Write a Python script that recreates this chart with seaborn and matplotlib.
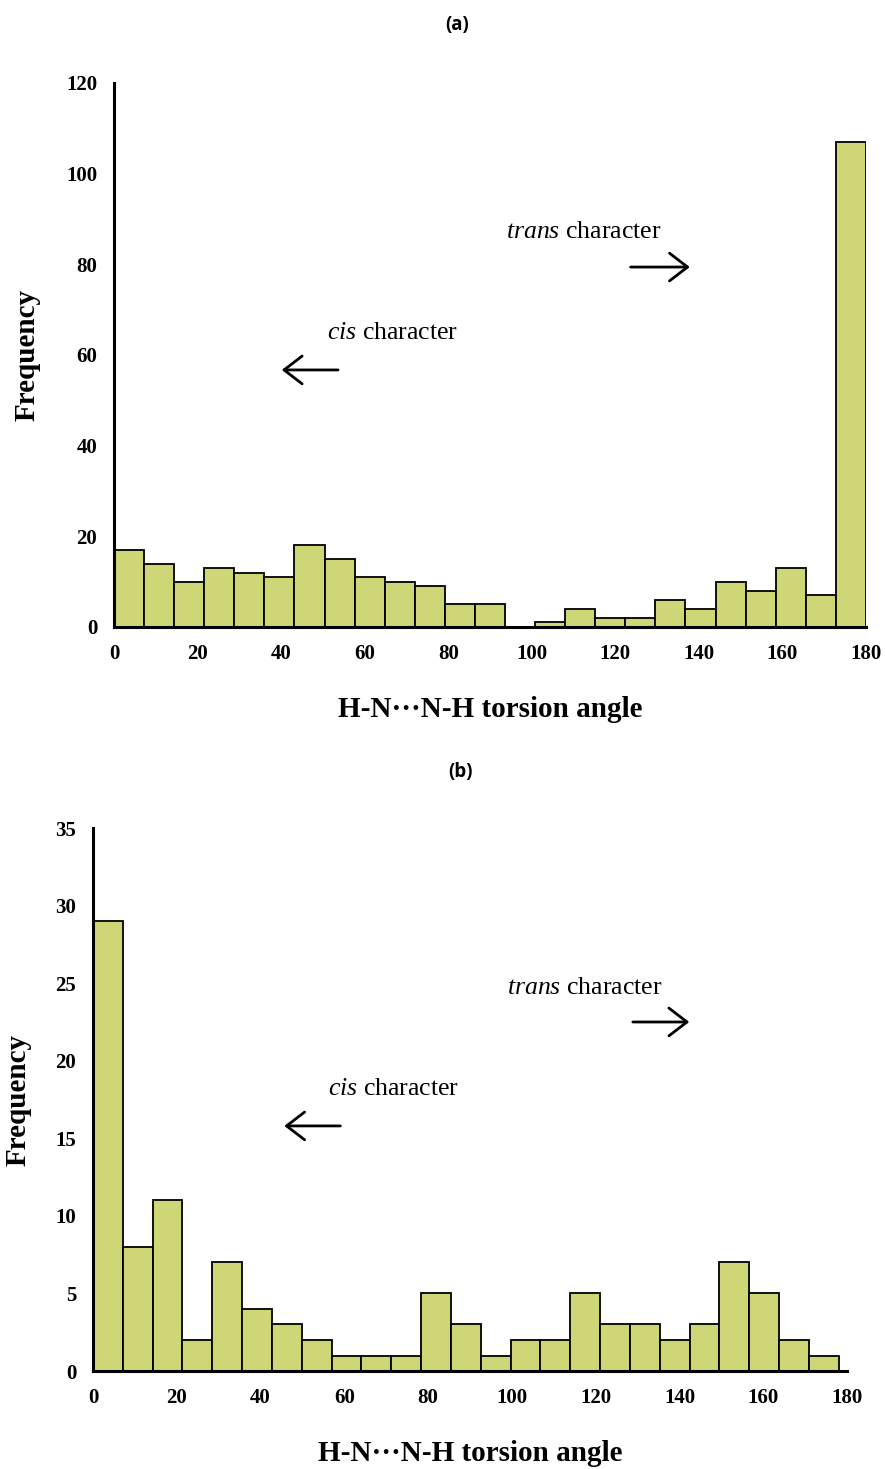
import numpy as np
import pandas as pd
import seaborn as sns
import matplotlib
matplotlib.use("Agg")
import matplotlib.pyplot as plt

# bin counts (25 bins each)
counts_a = [17, 14, 10, 13, 12, 11, 18, 15, 11, 10, 9, 5, 5,
            0, 1, 4, 2, 2, 6, 4, 10, 8, 13, 7, 107]
counts_b = [29, 8, 11, 2, 7, 4, 3, 2, 1, 1, 1, 5, 3,
            1, 2, 2, 5, 3, 3, 2, 3, 7, 5, 2, 1]
range_a = (0, 180)
range_b = (0, 178)
xticks = [0, 20, 40, 60, 80, 100, 120, 140, 160, 180]
yticks_a = [0, 20, 40, 60, 80, 100, 120]
yticks_b = [0, 5, 10, 15, 20, 25, 30, 35]

bar_color = "#CFD676"
serif = "Liberation Serif"

sns.set_theme(style="white")
plt.rcParams["font.family"] = [serif, "DejaVu Sans"]
plt.rcParams["mathtext.fontset"] = "custom"
plt.rcParams["mathtext.rm"] = serif
plt.rcParams["mathtext.it"] = serif + ":italic"
for key in ["text.color", "axes.labelcolor", "xtick.color", "ytick.color"]:
    plt.rcParams[key] = "black"

arrow_kw = dict(arrowstyle="->,head_length=0.65,head_width=0.5",
                mutation_scale=20, lw=2.0, color="black")


def draw_hist(ax, counts, xrange, ylim, yticks, trans_pos, trans_arrow,
              cis_pos, cis_arrow, ylabel_x):
    edges = np.linspace(xrange[0], xrange[1], len(counts) + 1)
    centers = (edges[:-1] + edges[1:]) / 2
    df = pd.DataFrame({"angle": centers, "freq": counts})
    sns.histplot(data=df, x="angle", weights="freq", bins=list(edges), ax=ax,
                 color=bar_color, alpha=1, edgecolor="black", linewidth=1.3)
    ax.set_xlim(0, 180)
    ax.set_ylim(*ylim)
    ax.set_xticks(xticks)
    ax.set_yticks(yticks)
    for s in ["top", "right"]:
        ax.spines[s].set_visible(False)
    for s in ["left", "bottom"]:
        ax.spines[s].set_linewidth(2.2)
        ax.spines[s].set_color("black")
    ax.tick_params(axis="both", direction="out", length=7, width=2.2,
                   color="black", labelcolor="black", pad=5, labelsize=15)
    for lab in ax.get_xticklabels() + ax.get_yticklabels():
        lab.set_fontweight("bold")
        lab.set_family(serif)
    ax.set_xlabel("H-N\u00b7\u00b7\u00b7N-H torsion angle", fontsize=21,
                  fontweight="bold", family=serif, labelpad=23, color="black")
    ax.set_ylabel("Frequency", fontsize=21, fontweight="bold", family=serif,
                  color="black")
    ax.yaxis.set_label_coords(ylabel_x, 0.5)

    ax.text(trans_pos[0], trans_pos[1], r"$\it{trans}$ character",
            fontsize=18.5, family=serif, va="center", ha="left")
    ax.annotate("", xy=trans_arrow[1], xytext=trans_arrow[0],
                arrowprops=arrow_kw)
    ax.text(cis_pos[0], cis_pos[1], r"$\it{cis}$ character",
            fontsize=18.5, family=serif, va="center", ha="left")
    ax.annotate("", xy=cis_arrow[1], xytext=cis_arrow[0],
                arrowprops=arrow_kw)


fig = plt.figure(figsize=(8.85, 14.69), dpi=100)
ax_a = fig.add_axes([0.1288, 0.5732, 0.8497, 0.3703])
ax_b = fig.add_axes([0.1051, 0.0667, 0.8520, 0.3696])

draw_hist(ax_a, counts_a, range_a, (0, 120), yticks_a,
          (93.8, 87.1), ((123, 79.4), (138.5, 79.4)),
          (51, 64.9), ((54.3, 56.7), (39.5, 56.7)), -0.098)
draw_hist(ax_b, counts_b, range_b, (0, 35), yticks_b,
          (98.8, 24.7), ((128.2, 22.5), (143.0, 22.5)),
          (56.1, 18.2), ((59.7, 15.8), (45.0, 15.8)), -0.081)

fig.text(0.516, 0.983, "(a)", ha="center", va="center", fontsize=13.5,
         fontweight="bold", family="Open Sans")
fig.text(0.520, 0.4745, "(b)", ha="center", va="center", fontsize=13.5,
         fontweight="bold", family="Open Sans")

fig.savefig("out.png", dpi=100, facecolor="white")
